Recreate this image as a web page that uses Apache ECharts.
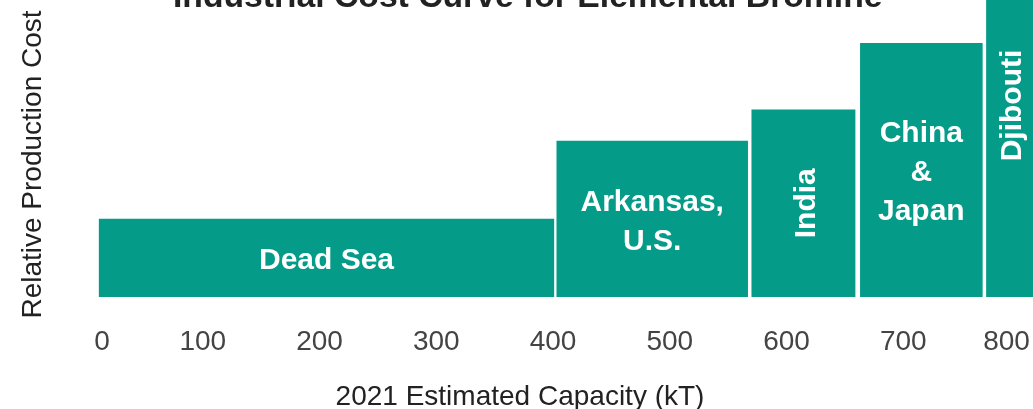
<!DOCTYPE html>
<html>
<head>
<meta charset="utf-8">
<script src="https://cdn.jsdelivr.net/npm/echarts@6/dist/echarts.min.js"></script>
<style>
html,body{margin:0;padding:0;background:#fff;}
#chart{width:1033px;height:409px;}
</style>
</head>
<body>
<div id="chart"></div>
<script>
// ---- data ----
const producers = ['Dead Sea', 'Arkansas, U.S.', 'India', 'China & Japan', 'Djibouti'];
const barLabels = ['Dead Sea', 'Arkansas,\nU.S.', 'India', 'China\n&\nJapan', 'Djibouti'];
const capacityStart = [11, 403, 570, 663, 771];   // kT
const capacityEnd = [401, 567, 659, 768, 812];    // kT
const relativeCost = [1.0, 2.0, 2.4, 3.25, 4.9];
const capacityTicks = [0, 100, 200, 300, 400, 500, 600, 700, 800];

const TEAL = '#049b89';
const FONT = "'Liberation Sans', Arial, sans-serif";

const seriesData = producers.map((p, i) => [capacityStart[i], capacityEnd[i], relativeCost[i], i]);

function renderItem(params, api) {
  const x0 = api.value(0), x1 = api.value(1), y = api.value(2), idx = api.value(3);
  const p0 = api.coord([x0, 0]);
  const p1 = api.coord([x1, y]);
  const left = p0[0], right = p1[0], top = p1[1], bottom = p0[1];
  const w = right - left;
  const cx = (left + right) / 2, cy = (top + bottom) / 2;
  const rotate = w < 115;
  return {
    type: 'group',
    children: [
      { type: 'rect', shape: { x: left, y: top, width: w, height: bottom - top }, style: { fill: TEAL } },
      {
        type: 'text', x: cx, y: cy, rotation: rotate ? Math.PI / 2 : 0,
        style: {
          text: barLabels[idx], x: 0, y: 3, align: 'center', verticalAlign: 'middle',
          fill: '#ffffff', font: "bold 30px " + FONT, lineHeight: 39
        }
      }
    ]
  };
}

const chart = echarts.init(document.getElementById('chart'));
chart.setOption({
  animation: false,
  backgroundColor: '#ffffff',
  title: {
    text: 'Industrial Cost Curve for Elemental Bromine',
    left: 168, top: -24,
    textStyle: { fontFamily: FONT, fontWeight: 'bold', fontSize: 33.7, color: '#222222' }
  },
  grid: { left: 86, right: 13, top: 0, bottom: 112, containLabel: false, outerBoundsMode: 'none' },
  xAxis: {
    type: 'value', min: capacityTicks[0], max: capacityTicks[capacityTicks.length - 1], interval: 100,
    axisLine: { show: false }, axisTick: { show: false }, splitLine: { show: false },
    axisLabel: {
      margin: 31, color: '#444444', fontFamily: FONT, fontSize: 28,
      formatter: function (v) {
        if (v === capacityTicks[0]) return '{first|' + v + '}';
        if (v === capacityTicks[capacityTicks.length - 1]) return '{last|' + v + '}';
        return String(v);
      },
      rich: {
        first: { fontFamily: FONT, fontSize: 28, color: '#444444', padding: [0, 0, 0, 32] },
        last: { fontFamily: FONT, fontSize: 28, color: '#444444', padding: [0, 27, 0, 0] }
      }
    },
    name: '2021 Estimated Capacity (kT)', nameLocation: 'middle', nameGap: 86,
    nameTextStyle: { fontFamily: FONT, fontSize: 28, color: '#222222', padding: [0, 66, 0, 0] }
  },
  yAxis: {
    type: 'value', min: 0, max: 3.8,
    axisLine: { show: false }, axisTick: { show: false }, splitLine: { show: false }, axisLabel: { show: false },
    name: 'Relative Production Cost', nameLocation: 'middle', nameGap: 39, nameRotate: 90,
    nameTextStyle: { fontFamily: FONT, fontSize: 28, color: '#222222', padding: [0, 32, 0, 0] }
  },
  series: [{
    type: 'custom', clip: false, renderItem: renderItem,
    encode: { x: [0, 1], y: 2 },
    data: seriesData
  }]
});
</script>
</body>
</html>
